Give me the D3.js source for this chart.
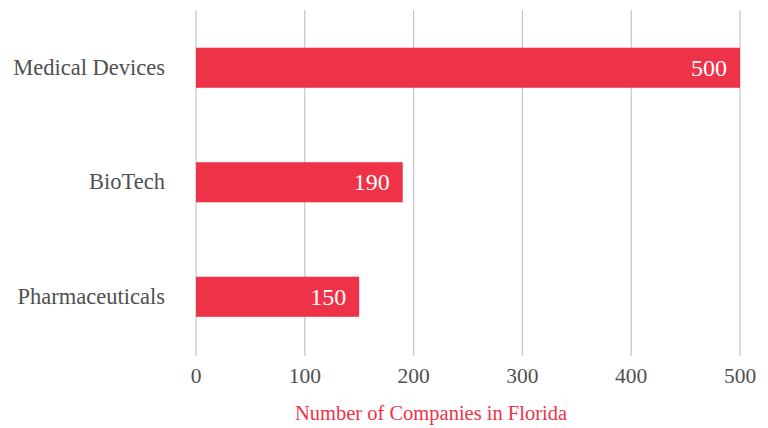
<!DOCTYPE html>
<html><head><meta charset="utf-8">
<script src="https://cdn.jsdelivr.net/npm/d3@7"></script>
<style>body{margin:0;background:#fff}svg{display:block}</style>
</head><body>
<svg id="c" width="768" height="428"></svg>
<script>
const categories = ["Medical Devices", "BioTech", "Pharmaceuticals"];
const values = [500, 190, 150];
const ticks = [0, 100, 200, 300, 400, 500];
const axisTitle = "Number of Companies in Florida";

const svg = d3.select("#c");
const font = "'Liberation Serif', 'DejaVu Serif', serif";
const red = "#ee3349";
const x = d3.scaleLinear().domain([0, 500]).range([196, 740]);
const y = d3.scaleBand().domain(categories).range([10.5, 354]).paddingInner(0.65).paddingOuter(0.325);

// gridlines
svg.append("g").selectAll("line").data(ticks).join("line")
  .attr("x1", d => x(d)).attr("x2", d => x(d))
  .attr("y1", 10).attr("y2", 356)
  .attr("stroke", "#c4c4c4").attr("stroke-width", 1.2);

// bars
svg.append("g").selectAll("rect").data(categories).join("rect")
  .attr("x", x(0)).attr("y", d => y(d))
  .attr("width", (d, i) => x(values[i]) - x(0))
  .attr("height", y.bandwidth())
  .attr("fill", red);

// value labels
svg.append("g").selectAll("text").data(categories).join("text")
  .attr("x", (d, i) => x(values[i]) - 13)
  .attr("y", d => y(d) + y.bandwidth() / 2 + 8)
  .attr("text-anchor", "end")
  .attr("fill", "#fff")
  .style("font-family", font).style("font-size", "24px")
  .text((d, i) => values[i]);

// category labels
svg.append("g").selectAll("text").data(categories).join("text")
  .attr("x", 165)
  .attr("y", d => y(d) + y.bandwidth() / 2 + 7)
  .attr("text-anchor", "end")
  .attr("fill", "#505050")
  .style("font-family", font).style("font-size", "22.5px")
  .text(d => d);

// tick labels
svg.append("g").selectAll("text").data(ticks).join("text")
  .attr("x", d => x(d)).attr("y", 383)
  .attr("text-anchor", "middle")
  .attr("fill", "#505050")
  .style("font-family", font).style("font-size", "21.5px")
  .text(d => d);

// axis title
svg.append("text")
  .attr("x", 431).attr("y", 420)
  .attr("text-anchor", "middle")
  .attr("fill", red)
  .style("font-family", font).style("font-size", "20.5px")
  .text(axisTitle);
</script>
</body></html>
